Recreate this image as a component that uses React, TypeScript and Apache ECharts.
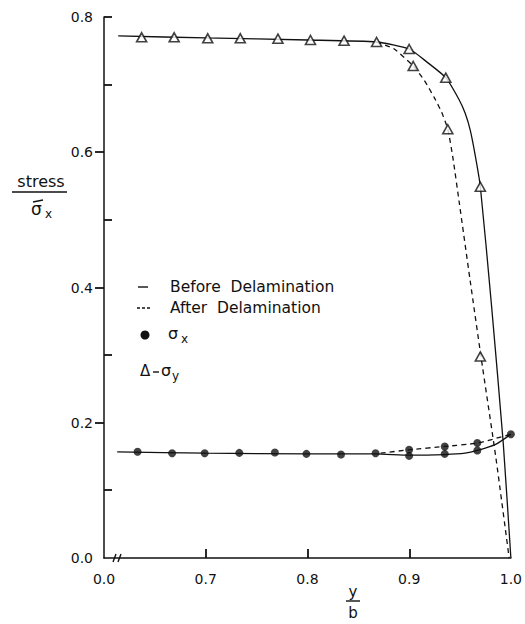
import React, { useEffect, useRef } from "react";
import * as echarts from "echarts";

// x axis is broken: the left end (plotted at 0.6) is labelled 0.0
const xTickValues = [0.6, 0.7, 0.8, 0.9, 1.0];
const xTickLabels = ["0.0", "0.7", "0.8", "0.9", "1.0"];
const xInnerTicks = [0.7, 0.8, 0.9];
const yTickLabels = ["0.0", "0.2", "0.4", "0.6", "0.8"];
const yOuterTicks = [0.2, 0.4, 0.6];
const yInnerTicks = [0.1, 0.3, 0.5, 0.7, 0.8];

// sigma_y markers (triangles)
const sigmaYBeforeX = [0.637, 0.669, 0.702, 0.734, 0.771, 0.803, 0.836, 0.868, 0.9, 0.936, 0.97];
const sigmaYBeforeY = [0.77, 0.77, 0.7685, 0.7685, 0.768, 0.766, 0.765, 0.763, 0.7527, 0.7103, 0.549];
const sigmaYAfterX = [0.904, 0.938, 0.97];
const sigmaYAfterY = [0.7275, 0.634, 0.298];

// sigma_x markers (dots)
const sigmaXBeforeX = [0.633, 0.667, 0.699, 0.733, 0.768, 0.799, 0.833, 0.867, 0.9, 0.935, 0.967, 1.0];
const sigmaXBeforeY = [0.157, 0.155, 0.155, 0.1555, 0.156, 0.154, 0.153, 0.155, 0.151, 0.154, 0.159, 0.183];
const sigmaXAfterX = [0.9, 0.935, 0.967];
const sigmaXAfterY = [0.16, 0.165, 0.17];

// curves
const curveSigmaYBefore = [
  [0.614, 0.772], [0.7, 0.769], [0.8, 0.766], [0.868, 0.763], [0.9, 0.7527],
  [0.917, 0.734], [0.936, 0.7103], [0.949, 0.678], [0.955, 0.658], [0.96, 0.633],
  [0.965, 0.595], [0.97, 0.549], [0.981, 0.373], [0.9925, 0.17], [1.0, 0.0],
];
const curveSigmaYAfter = [
  [0.868, 0.763], [0.885, 0.753], [0.904, 0.7275], [0.915, 0.706], [0.925, 0.68],
  [0.932, 0.659], [0.938, 0.634], [0.943, 0.592], [0.9493, 0.525], [0.96, 0.41],
  [0.9706, 0.298], [0.9853, 0.148], [0.9983, 0.0],
];
const curveSigmaXBefore = [
  [0.613, 0.157], [0.7, 0.155], [0.8, 0.154], [0.867, 0.154], [0.9, 0.152],
  [0.935, 0.153], [0.955, 0.155], [0.967, 0.159], [0.985, 0.168], [1.0, 0.183],
];
const curveSigmaXAfter = [
  [0.872, 0.155], [0.9, 0.16], [0.935, 0.165], [0.967, 0.17], [1.0, 0.183],
];

const zip = (xs: number[], ys: number[]) => xs.map((x, i) => [x, ys[i]]);

const FONT = "DejaVu Sans";
const INK = "#111";
const W = 525;
const H = 624;
const GRID = { left: 104, right: 13, top: 17, bottom: 66 };
const X_MIN = 0.6;
const X_MAX = 1.0;
const Y_MIN = 0;
const Y_MAX = 0.8;

export default function App() {
  const ref = useRef<HTMLDivElement>(null);
  useEffect(() => {
    document.body.style.margin = "0";
    const chart = echarts.init(ref.current!, null, { renderer: "svg" });
    const txt = (text: string, x: number, y: number, size: number, align = "left") => ({
      type: "text",
      x,
      y,
      style: { text, fill: INK, font: `${size}px "${FONT}"`, textAlign: align, textVerticalAlign: "middle" },
    });
    const ln = (x1: number, y1: number, x2: number, y2: number, dash?: number[], w = 1.4) => ({
      type: "line",
      shape: { x1, y1, x2, y2 },
      style: dash ? { stroke: INK, lineWidth: w, lineDash: dash } : { stroke: INK, lineWidth: w },
      z: 10,
    });
    const tick = (x1: number, y1: number, x2: number, y2: number) => ({
      type: "line",
      shape: { x1, y1, x2, y2 },
      style: { stroke: INK, lineWidth: 1.8 },
      z: 20,
    });
    const lineSeries = (data: number[][], dashed: boolean) => ({
      type: "line",
      data,
      smooth: 0.2,
      symbol: "none",
      lineStyle: { color: INK, width: 1.3, type: dashed ? [5, 4] : "solid" },
      z: 2,
      silent: true,
    });
    const triangleSeries = (data: number[][]) => ({
      type: "scatter",
      data,
      symbol: "triangle",
      symbolSize: [10, 9],
      itemStyle: { color: "#fff", borderColor: INK, borderWidth: 1.6 },
      z: 5,
    });
    const dotSeries = (data: number[][]) => ({
      type: "scatter",
      data,
      symbol: "circle",
      symbolSize: 8,
      itemStyle: { color: INK },
      z: 5,
    });

    // tick positions from the grid geometry and axis extents
    const plotW = W - GRID.left - GRID.right;
    const plotH = H - GRID.top - GRID.bottom;
    const tx = (v: number) => Math.round(GRID.left + ((v - X_MIN) / (X_MAX - X_MIN)) * plotW);
    const ty = (v: number) => Math.round(GRID.top + (1 - (v - Y_MIN) / (Y_MAX - Y_MIN)) * plotH);
    const ox = tx(X_MIN);
    const oy = ty(Y_MIN);
    const ticks: any[] = [];
    xInnerTicks.forEach((v) => ticks.push(tick(tx(v), oy, tx(v), oy - 9)));
    yOuterTicks.forEach((v) => ticks.push(tick(ox - 9, ty(v), ox, ty(v))));
    yInnerTicks.forEach((v) => ticks.push(tick(ox, ty(v), ox + 8, ty(v))));

    chart.setOption({
      animation: false,
      backgroundColor: "#fff",
      grid: GRID,
      xAxis: {
        type: "value",
        min: X_MIN,
        max: X_MAX,
        interval: 0.1,
        axisLine: { show: true, lineStyle: { color: INK, width: 1.5 } },
        axisTick: { show: false },
        splitLine: { show: false },
        axisLabel: {
          margin: 14,
          color: INK,
          fontFamily: FONT,
          fontSize: 14,
          formatter: (v: number) => {
            const i = xTickValues.findIndex((t) => Math.abs(t - v) < 1e-6);
            return i >= 0 ? xTickLabels[i] : "";
          },
        },
      },
      yAxis: {
        type: "value",
        min: Y_MIN,
        max: Y_MAX,
        interval: 0.2,
        axisLine: { show: true, lineStyle: { color: INK, width: 1.5 } },
        axisTick: { show: false },
        splitLine: { show: false },
        axisLabel: {
          margin: 11,
          color: INK,
          fontFamily: FONT,
          fontSize: 14,
          formatter: (v: number) => yTickLabels[Math.round(v / 0.2)] ?? "",
        },
      },
      series: [
        lineSeries(curveSigmaYBefore, false),
        lineSeries(curveSigmaYAfter, true),
        lineSeries(curveSigmaXBefore, false),
        lineSeries(curveSigmaXAfter, true),
        triangleSeries(zip(sigmaYBeforeX, sigmaYBeforeY)),
        triangleSeries(zip(sigmaYAfterX, sigmaYAfterY)),
        dotSeries(zip(sigmaXBeforeX, sigmaXBeforeY)),
        dotSeries(zip(sigmaXAfterX, sigmaXAfterY)),
      ],
      graphic: [
        // y axis name: stress / sigma-bar x
        txt("stress", 41, 181, 16, "center"),
        ln(12, 192, 67, 192),
        txt("σ", 31, 209, 17),
        ln(33, 202, 43, 200),
        txt("x", 45, 214, 12),
        // x axis name: y / b
        txt("y", 353, 592, 15, "center"),
        ln(346, 601, 360, 601),
        txt("b", 353, 613, 15, "center"),
        // axis break
        ln(113, 562, 116, 554),
        ln(118, 562, 121, 554),
        // legend
        ln(138, 287, 148, 287),
        txt("Before  Delamination", 170, 287, 15.5),
        ln(137, 308, 151, 308, [3, 2]),
        txt("After  Delamination", 170, 308, 15.5),
        { type: "circle", shape: { cx: 145, cy: 335, r: 4.5 }, style: { fill: INK } },
        txt("σ", 168, 333, 16),
        txt("x", 181, 339, 12),
        txt("Δ", 140, 371, 15),
        ln(153, 372, 159, 372),
        txt("σ", 161, 370, 16),
        txt("y", 172, 376, 12),
        ...ticks,
      ],
    });
    return () => chart.dispose();
  }, []);
  return <div ref={ref} style={{ width: W, height: H }} />;
}
